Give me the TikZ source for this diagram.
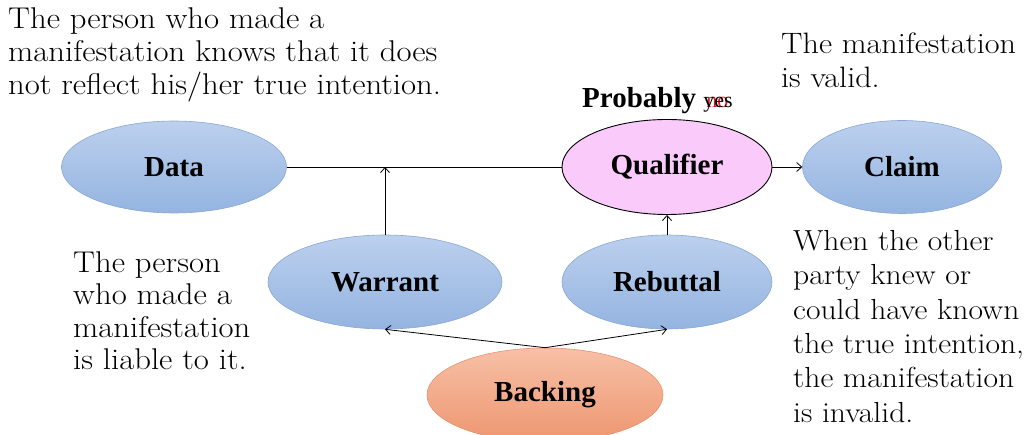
\documentclass[tikz,border=0pt]{standalone}
\usepackage{fontspec}
\usetikzlibrary{shapes.geometric,arrows.meta}
\newfontfamily\lblfont{Liberation Serif}
\newfontfamily\bodyfont[FakeStretch=1.09]{Latin Modern Roman}
\definecolor{bluetop}{RGB}{188,208,238}
\definecolor{bluebot}{RGB}{148,180,224}
\definecolor{blueedge}{RGB}{138,168,210}
\definecolor{orgtop}{RGB}{247,192,166}
\definecolor{orgbot}{RGB}{238,150,112}
\definecolor{orgedge}{RGB}{228,148,112}
\definecolor{pinkfill}{RGB}{250,202,250}
\definecolor{noRed}{RGB}{215,30,30}
\tikzset{
  ell/.style={ellipse, inner sep=0pt, font=\lblfont\bfseries\fontsize{29}{29}\selectfont},
  blueell/.style={ell, draw=blueedge, line width=0.6pt, top color=bluetop, bottom color=bluebot},
  orgell/.style={ell, draw=orgedge, line width=0.6pt, top color=orgtop, bottom color=orgbot},
  qualell/.style={ell, draw=black, line width=0.9pt, fill=pinkfill},
  note/.style={anchor=north west, inner sep=0pt, align=left},
  conn/.style={line width=0.8pt, black},
  arr/.style={conn, -{Straight Barb[length=5pt,width=9pt]}}
}
\begin{document}
\begin{tikzpicture}[x=1pt,y=-1pt]
\useasboundingbox (0,0) rectangle (1036,435);
\clip (0,0) rectangle (1036,435);
\node[blueell, minimum width=225pt, minimum height=92pt] (data) at (174,167) {Data};
\node[qualell, minimum width=210pt, minimum height=95pt] (qual) at (667,167) {Qualifier};
\node[blueell, minimum width=199pt, minimum height=93pt] (claim) at (902,167) {Claim};
\node[blueell, minimum width=234pt, minimum height=94pt] (warrant) at (385,282) {Warrant};
\node[blueell, minimum width=210pt, minimum height=94pt] (rebut) at (667,282) {Rebuttal};
\node[orgell, minimum width=236pt, minimum height=94pt] (backing) at (545,395) {Backing};

\node[anchor=base west, inner sep=0pt] (prob) at (582,108)
  {\lblfont\bfseries\fontsize{29}{29}\selectfont Probably\ \mdseries\fontsize{22}{22}\selectfont\rlap{\hspace{3pt}\color{noRed}no}yes};

\node[note, font=\bodyfont\fontsize{30}{33}\selectfont] (t1) at (8,7)
  {The person who made a\\manifestation knows that it does\\not reflect his/her true intention.};
\node[note, font=\bodyfont\fontsize{29.5}{34}\selectfont] (t2) at (781,32.5)
  {The manifestation\\is valid.};
\node[note, font=\bodyfont\fontsize{30}{32.5}\selectfont] (t3) at (73,251)
  {The person\\who made a\\manifestation\\is liable to it.};
\node[note, font=\bodyfont\fontsize{29}{34.4}\selectfont] (t4) at (793,230)
  {When the other\\party knew or\\could have known\\the true intention,\\the manifestation\\is invalid.};

\coordinate (join) at (warrant.north |- data.east);
\draw[conn] (data.east) -- (qual.west);
\draw[arr] (warrant.north) -- (join);
\draw[arr] (rebut.north) -- (qual.south);
\draw[arr] (qual.east) -- (claim.west);
\draw[arr] (backing.north) -- (warrant.south);
\draw[arr] (backing.north) -- (rebut.south);
\end{tikzpicture}
\end{document}
